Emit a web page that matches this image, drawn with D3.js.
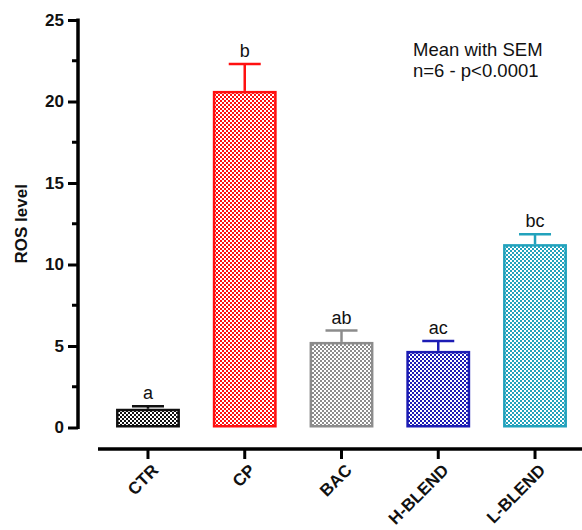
<!DOCTYPE html>
<html>
<head>
<meta charset="utf-8">
<script src="https://cdn.jsdelivr.net/npm/d3@7"></script>
<style>
  html, body { margin: 0; padding: 0; background: #fff; }
  svg { display: block; font-family: "Liberation Sans", Arial, sans-serif; }
</style>
</head>
<body>
<svg id="chart" width="582" height="530"></svg>
<script>
// ── data ──
const groups  = ['CTR', 'CP', 'BAC', 'H-BLEND', 'L-BLEND'];
const means   = [1.15, 20.65, 5.25, 4.7, 11.25];
const sems    = [0.15, 1.65, 0.7, 0.6, 0.6];
const letters = ['a', 'b', 'ab', 'ac', 'bc'];
const colors  = ['#111111', '#ff1010', '#8c8c8c', '#1c1cb4', '#22a2bc'];
const yTicks  = [0, 5, 10, 15, 20, 25];
const yMinor  = [2.5, 7.5, 12.5, 17.5, 22.5];
const notes   = ['Mean with SEM', 'n=6 - p<0.0001'];

const svg = d3.select('#chart');

const y = d3.scaleLinear().domain([0, 25]).range([427.5, 20]);
const x = d3.scaleBand().domain(groups).range([99.6, 583.4])
  .paddingInner(0.34).paddingOuter(0.17);

// checker patterns
const defs = svg.append('defs');
groups.forEach((g, i) => {
  const p = defs.append('pattern').attr('id', 'chk' + i)
    .attr('patternUnits', 'userSpaceOnUse').attr('width', 4).attr('height', 4);
  p.append('rect').attr('width', 4).attr('height', 4).attr('fill', '#fff');
  p.append('rect').attr('width', 2).attr('height', 2).attr('fill', colors[i]);
  p.append('rect').attr('x', 2).attr('y', 2).attr('width', 2).attr('height', 2).attr('fill', colors[i]);
});

// y axis
const yAxis = svg.append('g').attr('transform', 'translate(78,0)')
  .call(d3.axisLeft(y).tickValues(yTicks).tickSize(10).tickPadding(4));
yAxis.select('.domain').attr('stroke', '#000').attr('stroke-width', 3.5)
  .attr('d', `M0,${y(25) - 1.5}V${y(0) + 1.5}`);
yAxis.selectAll('.tick line').attr('stroke', '#000').attr('stroke-width', 3);
yAxis.selectAll('.tick text').attr('font-size', 17).attr('font-weight', 'bold')
  .attr('fill', '#111').attr('font-family', '"Liberation Sans", Arial, sans-serif');

svg.append('g').selectAll('line').data(yMinor).enter().append('line')
  .attr('x1', 72).attr('x2', 78)
  .attr('y1', d => y(d)).attr('y2', d => y(d))
  .attr('stroke', '#000').attr('stroke-width', 3);

svg.append('text')
  .attr('transform', `translate(27,${(y(0) + y(25)) / 2}) rotate(-90)`)
  .attr('text-anchor', 'middle').attr('font-size', 17).attr('font-weight', 'bold')
  .attr('fill', '#111').text('ROS level');

// x axis
const xAxis = svg.append('g').attr('transform', 'translate(0,449)')
  .call(d3.axisBottom(x).tickSize(10).tickSizeOuter(0).tickFormat(''));
xAxis.select('.domain').attr('stroke', '#000').attr('stroke-width', 3.5)
  .attr('d', 'M98,0H582');
xAxis.selectAll('.tick line').attr('stroke', '#000').attr('stroke-width', 3);

svg.append('g').selectAll('text').data(groups).enter().append('text')
  .attr('transform', d => `translate(${x(d) + x.bandwidth() / 2 + 3},${463}) rotate(-45)`)
  .attr('text-anchor', 'end').attr('dy', '0.7em')
  .attr('font-size', 17).attr('font-weight', 'bold').attr('fill', '#111')
  .text(d => d);

// bars
const sw = 2.5;
const bars = svg.append('g').selectAll('g').data(groups).enter().append('g');
bars.append('rect')
  .attr('x', d => x(d) + sw / 2)
  .attr('y', (d, i) => y(means[i]) + sw / 2)
  .attr('width', x.bandwidth() - sw)
  .attr('height', (d, i) => y(0) - y(means[i]) - sw)
  .attr('fill', (d, i) => `url(#chk${i})`)
  .attr('stroke', (d, i) => colors[i]).attr('stroke-width', sw);

// error bars (upper only)
const capW = 32;
bars.append('line')
  .attr('x1', d => x(d) + x.bandwidth() / 2).attr('x2', d => x(d) + x.bandwidth() / 2)
  .attr('y1', (d, i) => y(means[i])).attr('y2', (d, i) => y(means[i] + sems[i]))
  .attr('stroke', (d, i) => colors[i]).attr('stroke-width', sw);
bars.append('line')
  .attr('x1', d => x(d) + x.bandwidth() / 2 - capW / 2)
  .attr('x2', d => x(d) + x.bandwidth() / 2 + capW / 2)
  .attr('y1', (d, i) => y(means[i] + sems[i])).attr('y2', (d, i) => y(means[i] + sems[i]))
  .attr('stroke', (d, i) => colors[i]).attr('stroke-width', sw);

// significance letters
bars.append('text')
  .attr('x', d => x(d) + x.bandwidth() / 2)
  .attr('y', (d, i) => y(means[i] + sems[i]) - 7)
  .attr('text-anchor', 'middle').attr('font-size', 18).attr('fill', '#111')
  .text((d, i) => letters[i]);

// annotation
svg.append('g').selectAll('text').data(notes).enter().append('text')
  .attr('x', 413).attr('y', (d, i) => 56 + i * 21)
  .attr('font-size', 18.5).attr('fill', '#111')
  .text(d => d);
</script>
</body>
</html>
